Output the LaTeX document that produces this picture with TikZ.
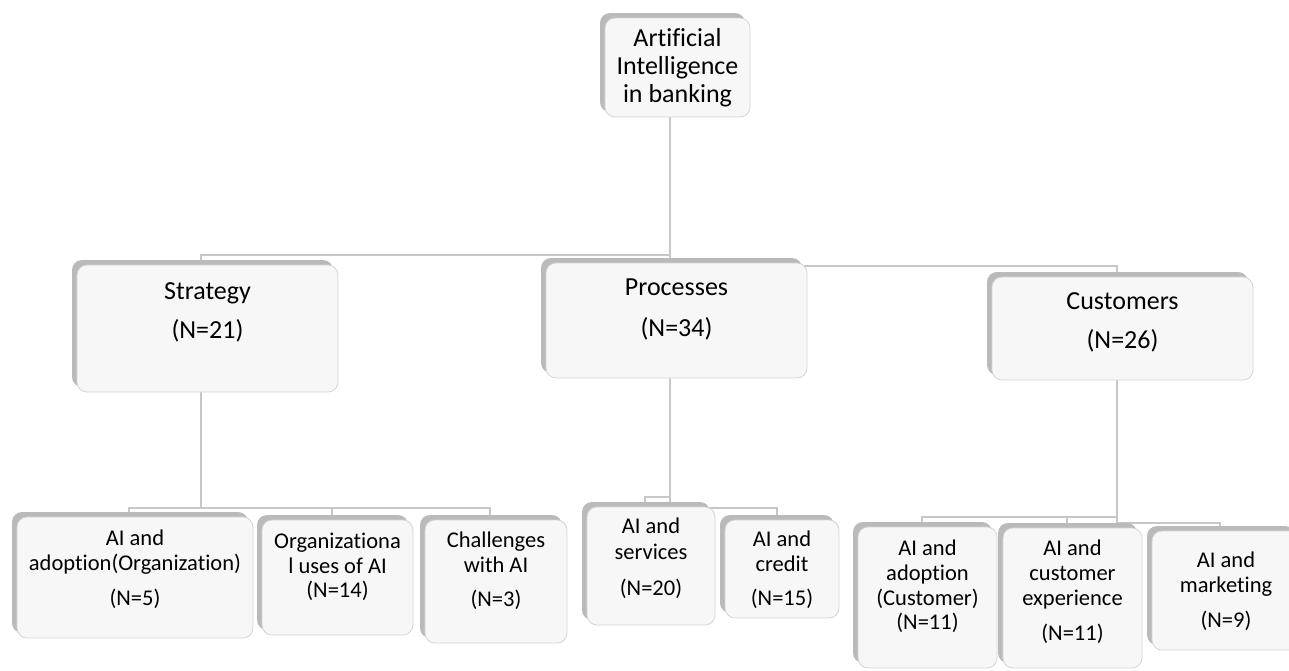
\documentclass[tikz,border=0pt]{standalone}
\usepackage{fontspec}
\setmainfont{Carlito}[RawFeature={-liga;-clig}]
\usetikzlibrary{fit,shadows}
\begin{document}
\begin{tikzpicture}[x=1pt,y=-1pt,
  box/.style={draw=black!17, line width=0.8pt, fill=black!3, rounded corners=10pt, inner sep=0pt,
    drop shadow={shadow xshift=-5pt, shadow yshift=5pt, fill=black!27, opacity=1}},
  conn/.style={draw=black!22, line width=1.3pt},
  big/.style={font=\fontsize{26}{28}\selectfont, anchor=base, inner sep=0pt},
  small/.style={font=\fontsize{22.5}{25}\selectfont, anchor=base, inner sep=0pt}]
\useasboundingbox (0,0) rectangle (1289,670);
\clip (0,0) rectangle (1289,670);

% junction coordinates
\coordinate (tA) at (670,255);
\coordinate (tB) at (670,266);
\coordinate (xs) at (201,0);
\coordinate (xc) at (1117,0);
\coordinate (sJ) at (201,508);
\coordinate (pJ) at (670,497);
\coordinate (pK) at (670,508);
\coordinate (cJ) at (1117,517);
\coordinate (cK) at (1117,523);
\coordinate (x1) at (129,0);
\coordinate (x2) at (332,0);
\coordinate (x3) at (490,0);
\coordinate (x4) at (645,0);
\coordinate (x5) at (777,0);
\coordinate (x6) at (922,0);
\coordinate (x7) at (1067,0);
\coordinate (x8) at (1220,0);

% box corners
\path (605,18) coordinate (r1) (750,117) coordinate (r2)
      (77,265) coordinate (s1) (338,392) coordinate (s2)
      (546,263) coordinate (p1) (807,378) coordinate (p2)
      (992,277) coordinate (c1) (1253,380) coordinate (c2)
      (17,517) coordinate (b1a) (253,638) coordinate (b1b)
      (262,520) coordinate (b2a) (413,635) coordinate (b2b)
      (425,520) coordinate (b3a) (567,643) coordinate (b3b)
      (587,507) coordinate (b4a) (715,625) coordinate (b4b)
      (725,520) coordinate (b5a) (839,618) coordinate (b5b)
      (858,527) coordinate (b6a) (997,668) coordinate (b6b)
      (1003,528) coordinate (b7a) (1142,668) coordinate (b7b)
      (1152,531) coordinate (b8a) (1300,650) coordinate (b8b);

% invisible placeholders naming the box boundaries for connectors
\node[inner sep=0pt, fit=(r1)(r2)] (root0) {};
\node[inner sep=0pt, fit=(s1)(s2)] (strat0) {};
\node[inner sep=0pt, fit=(p1)(p2)] (proc0) {};
\node[inner sep=0pt, fit=(c1)(c2)] (cust0) {};
\node[inner sep=0pt, fit=(b1a)(b1b)] (b10) {};
\node[inner sep=0pt, fit=(b2a)(b2b)] (b20) {};
\node[inner sep=0pt, fit=(b3a)(b3b)] (b30) {};
\node[inner sep=0pt, fit=(b4a)(b4b)] (b40) {};
\node[inner sep=0pt, fit=(b5a)(b5b)] (b50) {};
\node[inner sep=0pt, fit=(b6a)(b6b)] (b60) {};
\node[inner sep=0pt, fit=(b7a)(b7b)] (b70) {};
\node[inner sep=0pt, fit=(b8a)(b8b)] (b80) {};

% connectors
\draw[conn] (tA |- root0.south) -- (tA) -| (xs |- strat0.north);
\draw[conn] (tA) -- (tA |- proc0.north);
\draw[conn] (tB) -| (xc |- cust0.north);

\draw[conn] (xs |- strat0.south) -- (sJ);
\draw[conn] (x1 |- b10.north) -- (x1 |- sJ) -- (x3 |- sJ) -- (x3 |- b30.north);
\draw[conn] (x2 |- sJ) -- (x2 |- b20.north);

\draw[conn] (tA |- proc0.south) -- (pJ) -| (x4 |- b40.north);
\draw[conn] (pJ) -- (pK) -| (x5 |- b50.north);

\draw[conn] (xc |- cust0.south) -- (cJ) -| (x6 |- b60.north);
\draw[conn] (x7 |- cJ) -- (x7 |- b70.north);
\draw[conn] (cJ) -- (cK) -| (x8 |- b80.north);

% boxes
\node[box, fit=(r1)(r2)] (root) {};
\node[box, fit=(s1)(s2)] (strat) {};
\node[box, fit=(p1)(p2)] (proc) {};
\node[box, fit=(c1)(c2)] (cust) {};
\node[box, fit=(b1a)(b1b)] (b1) {};
\node[box, fit=(b2a)(b2b)] (b2) {};
\node[box, fit=(b3a)(b3b)] (b3) {};
\node[box, fit=(b4a)(b4b)] (b4) {};
\node[box, fit=(b5a)(b5b)] (b5) {};
\node[box, fit=(b6a)(b6b)] (b6) {};
\node[box, fit=(b7a)(b7b)] (b7) {};
\node[box, fit=(b8a)(b8b)] (b8) {};

% texts
\node[big] (root-t1) at (677.5,46) {Artificial};
\node[big] (root-t2) at (677.5,74) {Intelligence};
\node[big] (root-t3) at (677.5,102) {in banking};

\node[big] (strat-t1) at (207.5,299) {Strategy};
\node[big] (strat-t2) at (207.5,338) {(N=21)};
\node[big] (proc-t1) at (676.5,295) {Processes};
\node[big] (proc-t2) at (676.5,336) {(N=34)};
\node[big] (cust-t1) at (1122.5,309) {Customers};
\node[big] (cust-t2) at (1122.5,348) {(N=26)};

\node[small] (b1-t1) at (135,545) {AI and};
\node[small] (b1-t2) at (135,570) {adoption(Organization)};
\node[small] (b1-t3) at (135,605) {(N=5)};

\node[small] (b2-t1) at (337.5,548) {Organizationa};
\node[small] (b2-t2) at (337.5,573) {l uses of AI};
\node[small] (b2-t3) at (337.5,597) {(N=14)};

\node[small] (b3-t1) at (496,547) {Challenges};
\node[small] (b3-t2) at (496,572) {with AI};
\node[small] (b3-t3) at (496,606) {(N=3)};

\node[small] (b4-t1) at (651,533) {AI and};
\node[small] (b4-t2) at (651,559) {services};
\node[small] (b4-t3) at (651,595) {(N=20)};

\node[small] (b5-t1) at (782,546) {AI and};
\node[small] (b5-t2) at (782,571) {credit};
\node[small] (b5-t3) at (782,605) {(N=15)};

\node[small] (b6-t1) at (927.5,555) {AI and};
\node[small] (b6-t2) at (927.5,580) {adoption};
\node[small] (b6-t3) at (927.5,605) {(Customer)};
\node[small] (b6-t4) at (927.5,629) {(N=11)};

\node[small] (b7-t1) at (1072.5,555) {AI and};
\node[small] (b7-t2) at (1072.5,580) {customer};
\node[small] (b7-t3) at (1072.5,605) {experience};
\node[small] (b7-t4) at (1072.5,640) {(N=11)};

\node[small] (b8-t1) at (1226,567) {AI and};
\node[small] (b8-t2) at (1226,592) {marketing};
\node[small] (b8-t3) at (1226,627) {(N=9)};
\end{tikzpicture}
\end{document}
